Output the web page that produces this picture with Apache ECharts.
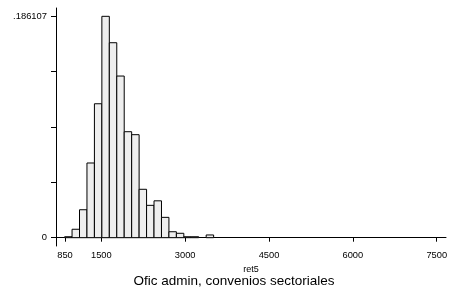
<!DOCTYPE html>
<html>
<head>
<meta charset="utf-8">
<script src="https://cdn.jsdelivr.net/npm/echarts@6/dist/echarts.min.js"></script>
<style>
  html, body { margin: 0; padding: 0; background: #fff; }
  #chart { width: 449px; height: 287px; }
</style>
</head>
<body>
<div id="chart"></div>
<script>
// histogram of ret5, 20 bins
const binStart = 843;
const binWidth = 133.3;
const fractions = [
  0.0008, 0.0071, 0.0235, 0.0628, 0.1126,
  0.186107, 0.1639, 0.1359, 0.0891, 0.0866,
  0.0407, 0.0272, 0.0310, 0.0171, 0.0050,
  0.0037, 0.0008, 0.0008, 0, 0.0023
];
const xTicks = [850, 1500, 3000, 4500, 6000, 7500];
const yTicks = [0, 0.04652675, 0.0930535, 0.13958025, 0.186107];
const yLabelValues = [0, 0.186107];
const yLabelTexts = ['0', '.186107'];

const bars = fractions.map((f, i) => [binStart + i * binWidth, binStart + (i + 1) * binWidth, f]);

const font = 'Liberation Sans, Arial, sans-serif';

const option = {
  animation: false,
  title: {
    text: 'Ofic admin, convenios sectoriales',
    left: 229,
    textAlign: 'center',
    top: 269,
    textStyle: { fontFamily: font, fontSize: 13.5, fontWeight: 'normal', color: '#000' },
  },
  grid: { left: 56, right: 3, top: 8, bottom: 41, outerBoundsMode: 'none' },
  xAxis: {
    type: 'value',
    min: 689,
    max: 7666,
    name: 'ret5',
    nameLocation: 'middle',
    nameGap: 18,
    nameTextStyle: { fontFamily: font, fontSize: 9, color: '#000' },
    splitLine: { show: false },
    axisLine: { lineStyle: { color: '#000', width: 1 } },
    axisTick: { length: 4, lineStyle: { color: '#000' }, customValues: xTicks },
    axisLabel: {
      customValues: xTicks,
      margin: 5,
      fontFamily: font,
      fontSize: 9.3,
      color: '#000',
      formatter: v => String(v),
    },
  },
  yAxis: {
    type: 'value',
    min: -0.00698,
    max: 0.1931,
    name: 'Fraction',
    nameLocation: 'middle',
    nameGap: 40,
    nameTextStyle: { fontFamily: font, fontSize: 9.5, color: '#000' },
    splitLine: { show: false },
    axisLine: { show: true, lineStyle: { color: '#000', width: 1 } },
    axisTick: { show: true, length: 5, lineStyle: { color: '#000' }, customValues: yTicks },
    axisLabel: {
      customValues: yLabelValues,
      margin: 9,
      fontFamily: font,
      fontSize: 9.4,
      color: '#000',
      formatter: v => yLabelTexts[yLabelValues.indexOf(v)] ?? '',
    },
  },
  series: [{
    type: 'custom',
    data: bars,
    renderItem: (params, api) => {
      const f = api.value(2);
      if (!f) return;
      const p0 = api.coord([api.value(0), f]);
      const p1 = api.coord([api.value(1), 0]);
      return {
        type: 'rect',
        shape: { x: p0[0], y: p0[1], width: p1[0] - p0[0], height: p1[1] - p0[1] },
        style: { fill: '#eeeeee', stroke: '#000', lineWidth: 1 },
      };
    },
  }],
};

const myChart = echarts.init(document.getElementById('chart'));
myChart.setOption(option);
</script>
</body>
</html>
